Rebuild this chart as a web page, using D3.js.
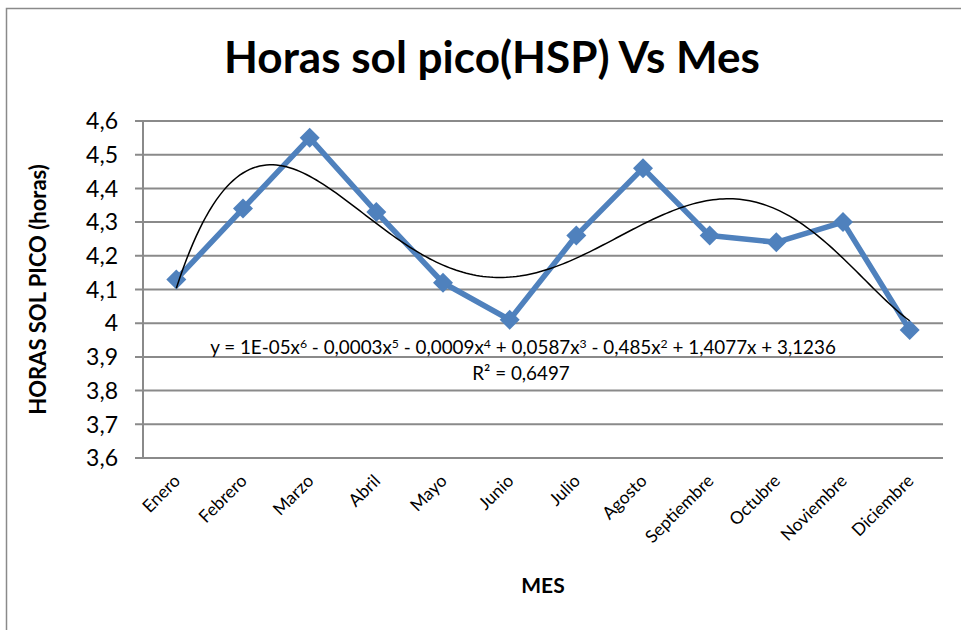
<!DOCTYPE html>
<html>
<head>
<meta charset="utf-8">
<script src="https://cdn.jsdelivr.net/npm/d3@7"></script>
<style>
  body { margin: 0; background: #fff; }
  text { font-family: Lato, "Open Sans", sans-serif; fill: #000; }
</style>
</head>
<body>
<div id="chart"></div>
<script>
// --- DATA ---
var months = ["Enero", "Febrero", "Marzo", "Abril", "Mayo", "Junio", "Julio",
              "Agosto", "Septiembre", "Octubre", "Noviembre", "Diciembre"];
var hsp = [4.13, 4.34, 4.55, 4.33, 4.12, 4.01, 4.26, 4.46, 4.26, 4.24, 4.30, 3.98];
var yTicks = [3.6, 3.7, 3.8, 3.9, 4.0, 4.1, 4.2, 4.3, 4.4, 4.5, 4.6];
var trendDegree = 6;
// equation label as Excel prints it: [text, exponent]
var eqParts = [["y = 1E-05x", "6"], [" - 0,0003x", "5"], [" - 0,0009x", "4"],
               [" + 0,0587x", "3"], [" - 0,485x", "2"], [" + 1,4077x + 3,1236", ""]];
var r2Label = "R² = 0,6497";

// --- SETUP ---
var width = 961, height = 630;
var margin = { top: 121, right: 18, bottom: 172, left: 143 };
var grid = "#8a8a8a";

var svg = d3.select("#chart").append("svg")
  .attr("width", width)
  .attr("height", height);

// outer chart border (runs off the right/bottom of the picture)
svg.append("rect")
  .attr("x", 6.5).attr("y", 8.5)
  .attr("width", 1000).attr("height", 700)
  .attr("fill", "none").attr("stroke", grid).attr("stroke-width", 1.5);

var x = d3.scalePoint().domain(months)
  .range([margin.left, width - margin.right]).padding(0.5);
var y = d3.scaleLinear().domain([3.6, 4.6])
  .range([height - margin.bottom, margin.top]);

var fmt = d3.formatLocale({ decimal: ",", thousands: ".", grouping: [3], currency: ["", ""] })
  .format(".1~f");

// --- GRID + AXES ---
svg.append("g")
  .selectAll("line").data(yTicks).enter().append("line")
  .attr("x1", margin.left - 8).attr("x2", width - margin.right)
  .attr("y1", d => y(d)).attr("y2", d => y(d))
  .attr("stroke", grid).attr("stroke-width", 2);

svg.append("line")
  .attr("x1", margin.left).attr("x2", margin.left)
  .attr("y1", y(4.6)).attr("y2", y(3.6))
  .attr("stroke", grid).attr("stroke-width", 2);

svg.append("g")
  .selectAll("text").data(yTicks).enter().append("text")
  .attr("x", 118).attr("y", d => y(d))
  .attr("dy", "0.36em")
  .attr("text-anchor", "end")
  .style("font-size", "23px")
  .text(d => fmt(d));

svg.append("g")
  .selectAll("text").data(months).enter().append("text")
  .attr("transform", d => "translate(" + (x(d) + 5) + "," + 482 + ") rotate(-45)")
  .attr("text-anchor", "end")
  .style("font-size", "17.5px")
  .text(d => d);

// --- TITLES ---
var title = svg.append("text")
  .attr("x", 492).attr("y", 73)
  .attr("text-anchor", "middle")
  .style("font-size", "42px").style("font-weight", "bold")
  .text("Horas sol pico(HSP) Vs Mes");
var tw = title.node().getComputedTextLength();
title.style("font-size", (42 * 536 / tw) + "px");

svg.append("text")
  .attr("transform", "translate(46," + ((y(3.6) + y(4.6)) / 2) + ") rotate(-90)")
  .attr("text-anchor", "middle")
  .style("font-size", "22px").style("font-weight", "bold")
  .text("HORAS SOL PICO (horas)");

svg.append("text")
  .attr("x", (margin.left + width - margin.right) / 2).attr("y", 593)
  .attr("text-anchor", "middle")
  .style("font-size", "21px").style("font-weight", "bold")
  .text("MES");

// --- POLYNOMIAL TREND (least squares, degree 6) ---
function polyFit(xs, ys, deg) {
  var n = deg + 1;
  var A = [], b = [];
  for (var i = 0; i < n; i++) { A.push(new Array(n).fill(0)); b.push(0); }
  xs.forEach(function(xv, k) {
    for (var i = 0; i < n; i++) {
      b[i] += ys[k] * Math.pow(xv, i);
      for (var j = 0; j < n; j++) A[i][j] += Math.pow(xv, i + j);
    }
  });
  // gaussian elimination with pivoting
  for (var c = 0; c < n; c++) {
    var p = c;
    for (var r = c + 1; r < n; r++) if (Math.abs(A[r][c]) > Math.abs(A[p][c])) p = r;
    var t = A[c]; A[c] = A[p]; A[p] = t;
    var tb = b[c]; b[c] = b[p]; b[p] = tb;
    for (var r2 = c + 1; r2 < n; r2++) {
      var f = A[r2][c] / A[c][c];
      for (var j2 = c; j2 < n; j2++) A[r2][j2] -= f * A[c][j2];
      b[r2] -= f * b[c];
    }
  }
  var coef = new Array(n).fill(0);
  for (var r3 = n - 1; r3 >= 0; r3--) {
    var s = b[r3];
    for (var j3 = r3 + 1; j3 < n; j3++) s -= A[r3][j3] * coef[j3];
    coef[r3] = s / A[r3][r3];
  }
  return coef;
}

// months as 1..12, scaled to [-1, 1] to keep the fit stable
var idx = months.map((m, i) => i + 1);
var toT = v => (v - 6.5) / 5.5;
var coef = polyFit(idx.map(toT), hsp, trendDegree);
var evalPoly = v => coef.reduce((s, c, i) => s + c * Math.pow(toT(v), i), 0);

var xi = d3.scaleLinear().domain([1, 12]).range([x(months[0]), x(months[11])]);
var trend = d3.range(1, 12.001, 0.05).map(v => [v, evalPoly(v)]);

// --- SERIES ---
svg.append("path")
  .datum(hsp)
  .attr("fill", "none")
  .attr("stroke", "#4f81bd")
  .attr("stroke-width", 5.5)
  .attr("stroke-linejoin", "round")
  .attr("d", d3.line().x((d, i) => x(months[i])).y(d => y(d)));

svg.append("g")
  .selectAll("path").data(hsp).enter().append("path")
  .attr("transform", (d, i) => "translate(" + x(months[i]) + "," + y(d) + ") rotate(45)")
  .attr("d", d3.symbol().type(d3.symbolSquare).size(200))
  .attr("fill", "#4f81bd");

svg.append("path")
  .datum(trend)
  .attr("fill", "none")
  .attr("stroke", "#000")
  .attr("stroke-width", 1.5)
  .attr("d", d3.line().x(d => xi(d[0])).y(d => y(d[1])));

// --- EQUATION LABEL ---
var eq = svg.append("text")
  .attr("x", 523).attr("y", 354)
  .attr("text-anchor", "middle")
  .style("font-size", "17px");
var shift = 0;
eqParts.forEach(function(p) {
  eq.append("tspan").attr("dy", shift).text(p[0]);
  shift = 0;
  if (p[1]) {
    eq.append("tspan").attr("dy", -6).style("font-size", "0.65em").text(p[1]);
    shift = 6;
  }
});
var ew = eq.node().getComputedTextLength();
var eqSize = 17 * 626 / ew;
eq.style("font-size", eqSize + "px");

svg.append("text")
  .attr("x", 521).attr("y", 380)
  .attr("text-anchor", "middle")
  .style("font-size", eqSize + "px")
  .text(r2Label);
</script>
</body>
</html>
